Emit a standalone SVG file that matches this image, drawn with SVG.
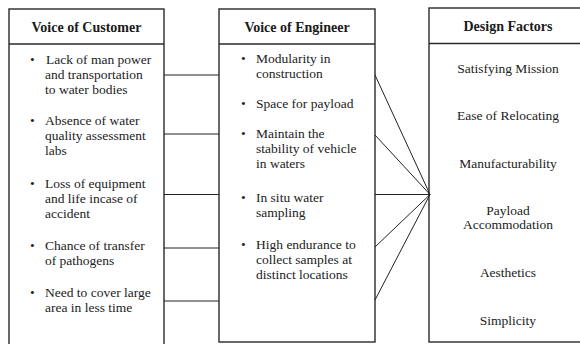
<svg xmlns="http://www.w3.org/2000/svg" width="580" height="344" viewBox="0 0 580 344">
<style>
.box{fill:#fff;stroke:#2a2a2a;stroke-width:1.4}
.sep{stroke:#2a2a2a;stroke-width:1.4}
.hd{font-family:"Liberation Serif",serif;font-weight:bold;font-size:14px;fill:#1a1a1a;text-anchor:middle}
.tx{font-family:"Liberation Serif",serif;font-size:13.5px;fill:#222}
.ct{font-family:"Liberation Serif",serif;font-size:13.5px;fill:#222;text-anchor:middle}
.cn{stroke:#222;stroke-width:1;fill:none}
</style>
<rect width="580" height="344" fill="#fff"/>
<g id="customer">
<rect class="box" x="9" y="9" width="155" height="340"/>
<line class="sep" x1="9" y1="44" x2="164" y2="44"/>
<text class="hd" x="86.5" y="32">Voice of Customer</text>
<text class="tx" x="30" y="64">•</text>
<text class="tx" x="46" y="64"> Lack of man power</text>
<text class="tx" x="45" y="79">and transportation</text>
<text class="tx" x="45" y="94">to water bodies</text>
<text class="tx" x="30" y="125">•</text>
<text class="tx" x="45" y="125">Absence of water</text>
<text class="tx" x="45" y="140">quality assessment</text>
<text class="tx" x="45" y="155">labs</text>
<text class="tx" x="30" y="188">•</text>
<text class="tx" x="45" y="188">Loss of equipment</text>
<text class="tx" x="45" y="203">and life incase of</text>
<text class="tx" x="45" y="218">accident</text>
<text class="tx" x="30" y="250">•</text>
<text class="tx" x="45" y="250">Chance of transfer</text>
<text class="tx" x="45" y="265">of pathogens</text>
<text class="tx" x="30" y="297">•</text>
<text class="tx" x="45" y="297">Need to cover large</text>
<text class="tx" x="45" y="312">area in less time</text>
</g>
<g id="engineer">
<rect class="box" x="219" y="9" width="156" height="333"/>
<line class="sep" x1="219" y1="44" x2="375" y2="44"/>
<text class="hd" x="297" y="32">Voice of Engineer</text>
<text class="tx" x="241" y="63">•</text>
<text class="tx" x="256" y="63">Modularity in</text>
<text class="tx" x="256" y="78">construction</text>
<text class="tx" x="241" y="108">•</text>
<text class="tx" x="256" y="108">Space for payload</text>
<text class="tx" x="241" y="138">•</text>
<text class="tx" x="256" y="138">Maintain the</text>
<text class="tx" x="256" y="153">stability of vehicle</text>
<text class="tx" x="256" y="168">in waters</text>
<text class="tx" x="241" y="202">•</text>
<text class="tx" x="256" y="202">In situ water</text>
<text class="tx" x="256" y="217">sampling</text>
<text class="tx" x="241" y="249">•</text>
<text class="tx" x="256" y="249">High endurance to</text>
<text class="tx" x="256" y="264">collect samples at</text>
<text class="tx" x="256" y="279">distinct locations</text>
</g>
<g id="factors">
<rect class="box" x="429" y="8" width="160" height="334"/>
<line class="sep" x1="429" y1="43.5" x2="589" y2="43.5"/>
<text class="hd" x="508" y="31">Design Factors</text>
<text class="ct" x="508" y="73">Satisfying Mission</text>
<text class="ct" x="508" y="120">Ease of Relocating</text>
<text class="ct" x="508" y="168">Manufacturability</text>
<text class="ct" x="508" y="215">Payload</text>
<text class="ct" x="508" y="229">Accommodation</text>
<text class="ct" x="508" y="277">Aesthetics</text>
<text class="ct" x="508" y="325">Simplicity</text>
</g>
<g id="connectors">
<line class="cn" x1="164" y1="75" x2="219" y2="75"/>
<line class="cn" x1="164" y1="134" x2="219" y2="134"/>
<line class="cn" x1="164" y1="194.5" x2="219" y2="194.5"/>
<line class="cn" x1="164" y1="248" x2="219" y2="248"/>
<line class="cn" x1="164" y1="301" x2="219" y2="301"/>
<line class="cn" x1="375" y1="75" x2="430" y2="194.5"/>
<line class="cn" x1="375" y1="135" x2="430" y2="194.5"/>
<line class="cn" x1="375" y1="194.5" x2="430" y2="194.5"/>
<line class="cn" x1="375" y1="247" x2="430" y2="194.5"/>
<line class="cn" x1="375" y1="300" x2="430" y2="194.5"/>
</g>
</svg>
